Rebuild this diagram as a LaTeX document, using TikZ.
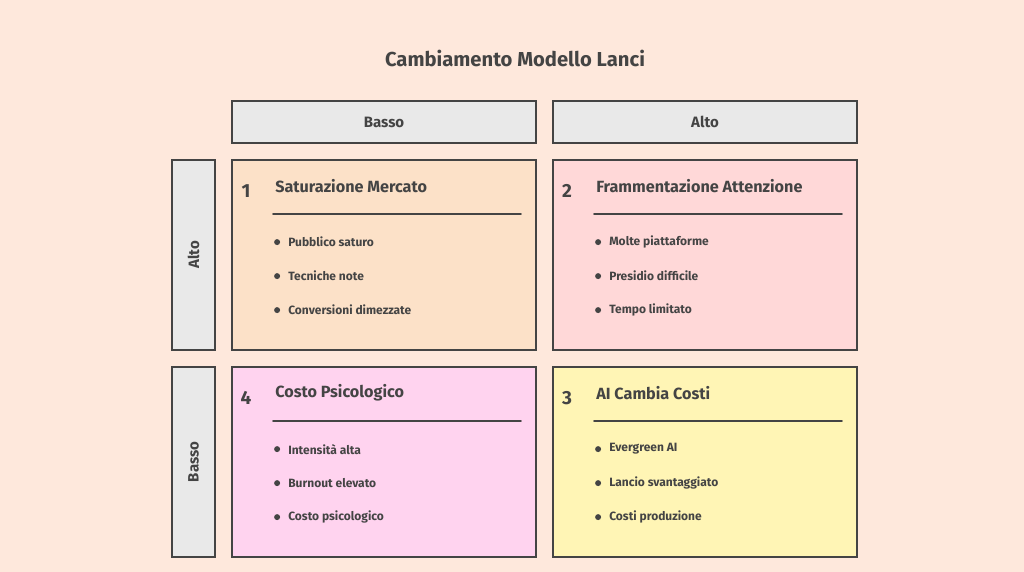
\documentclass[tikz,border=0pt]{standalone}
\usepackage{fontspec}
\setmainfont{Fira Sans}
\definecolor{bgpeach}{HTML}{FEE8DC}
\definecolor{ink}{HTML}{444444}
\definecolor{axisgray}{HTML}{E9E9E9}
\definecolor{qpeach}{HTML}{FCE1C8}
\definecolor{qrose}{HTML}{FFD8D8}
\definecolor{qpink}{HTML}{FFD3EF}
\definecolor{qyellow}{HTML}{FFF5B5}
\begin{document}
\begin{tikzpicture}[x=1pt, y=-1pt,
  every node/.style={text=ink, inner sep=0pt},
  cellbox/.style={draw=ink, line width=1.8pt, minimum width=304pt, minimum height=190pt},
  axisbox/.style={draw=ink, line width=1.8pt, fill=axisgray},
  axislabel/.style={font=\fontsize{15}{17}\selectfont\bfseries},
  numlabel/.style={font=\fontsize{19}{21}\selectfont\bfseries},
  headlabel/.style={anchor=west, font=\fontsize{16.2}{18}\selectfont\bfseries},
  itemlabel/.style={anchor=west, font=\fontsize{12}{14}\selectfont\bfseries}]
\fill[bgpeach] (0,0) rectangle (1024,572);
\useasboundingbox (0,0) rectangle (1024,572);
\node[font=\fontsize{20.2}{23}\selectfont\bfseries] (title) at (515,58) {Cambiamento Modello Lanci};
% axis headers
\node[axisbox, axislabel, minimum width=304pt, minimum height=42pt] (colLow) at (384,122) {Basso};
\node[axisbox, axislabel, minimum width=304pt, minimum height=42pt] (colHigh) at (705,122) {Alto};
\node[axisbox, minimum width=43pt, minimum height=190pt] (rowHigh) at (193.5,255) {};
\node[axislabel, rotate=90] (rowHigh-text) at (rowHigh.center) {Alto};
\node[axisbox, minimum width=43pt, minimum height=190pt] (rowLow) at (193.5,462) {};
\node[axislabel, rotate=90] (rowLow-text) at (rowLow.center) {Basso};
% quadrants
\foreach \q/\cx/\cy/\qc/\num/\head/\ia/\ib/\ic in {
  satur/384/255/qpeach/1/Saturazione Mercato/Pubblico saturo/Tecniche note/Conversioni dimezzate,
  framm/705/255/qrose/2/Frammentazione Attenzione/Molte piattaforme/Presidio difficile/Tempo limitato,
  psico/384/462/qpink/4/Costo Psicologico/Intensità alta/Burnout elevato/Costo psicologico,
  costi/705/462/qyellow/3/AI Cambia Costi/Evergreen AI/Lancio svantaggiato/Costi produzione}
{
  \node[cellbox, fill=\qc] (\q) at (\cx,\cy) {};
  \node[numlabel] (\q-num) at ([shift={(15,32)}]\q.north west) {\num};
  \node[headlabel] (\q-head) at ([shift={(44,27)}]\q.north west) {\head};
  \draw[ink, line width=1.8pt, line cap=round] ([shift={(42,55)}]\q.north west) -- ([shift={(-16,55)}]\q.north east);
  \foreach \it/\dy in {\ia/83,\ib/117,\ic/151} {
    \fill[ink] ([shift={(46,\dy)}]\q.north west) circle (3);
    \node[itemlabel] at ([shift={(57,\dy)}]\q.north west) {\it};
  }
}
\end{tikzpicture}
\end{document}
